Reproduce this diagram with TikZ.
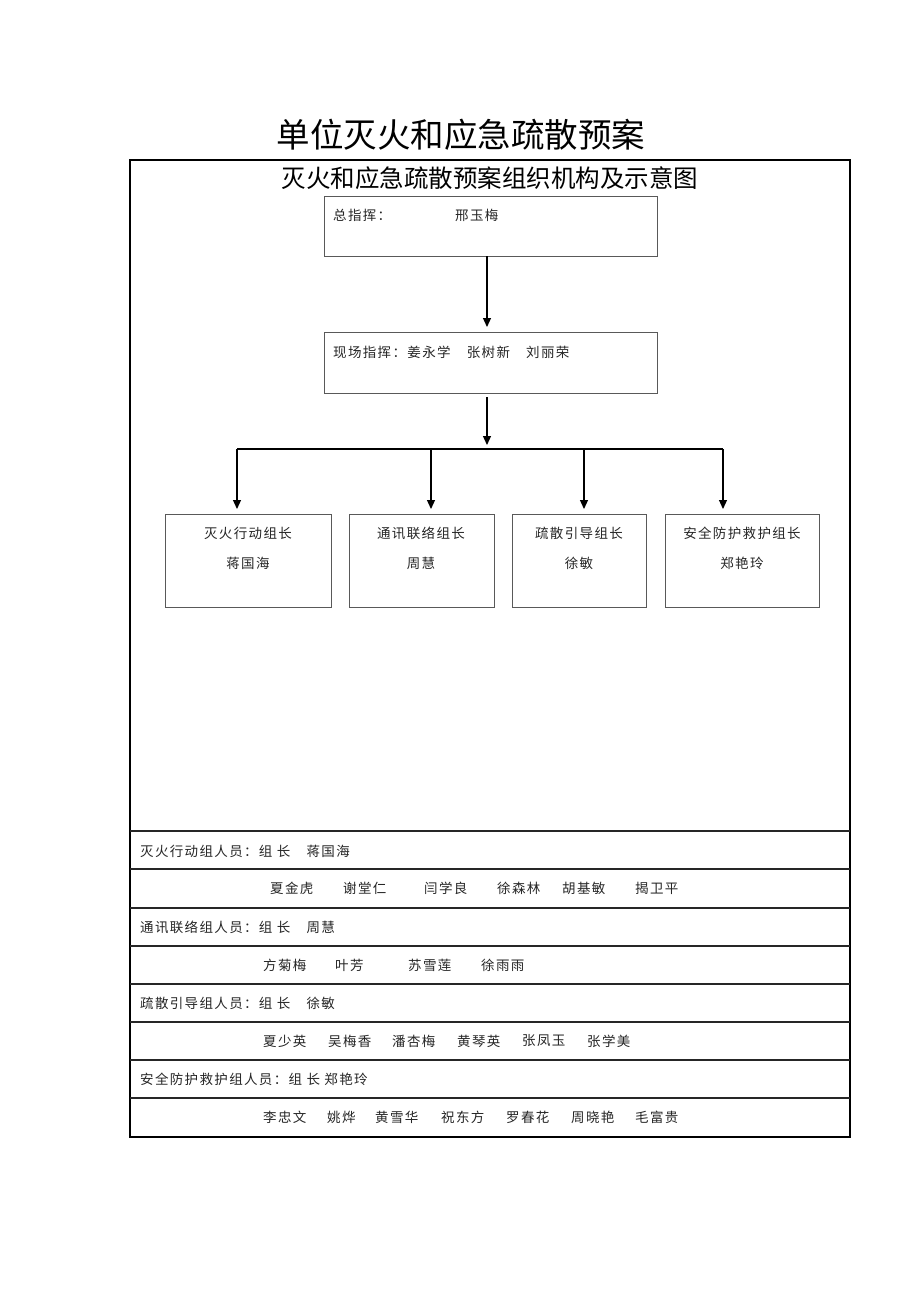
\documentclass[tikz,border=0pt]{standalone}
\usepackage{fontspec}
\setmainfont{Noto Sans CJK SC}
\newfontfamily\cjk[LetterSpace=10]{Noto Sans CJK SC}
\usetikzlibrary{arrows.meta}
\begin{document}
\begin{tikzpicture}[x=1pt,y=-1pt,
  lbl/.style={inner sep=0pt,font=\cjk\fontsize{13.5}{14}\selectfont,text=black!85},
  lblw/.style={lbl,anchor=west},
  box/.style={draw=black!65,line width=1pt},
  arr/.style={-{Triangle[length=9pt,width=8pt]},line width=1.2pt},
  rowline/.style={draw=black!85,line width=1.6pt}]
\useasboundingbox[fill=white] (0,0) rectangle (920,1302);
% titles
\node[inner sep=0pt,font=\fontsize{33.5}{36}\selectfont] (title) at (461,135) {单位灭火和应急疏散预案};
\node[inner sep=0pt,font=\fontsize{24.5}{26}\selectfont] (sub) at (490,178) {灭火和应急疏散预案组织机构及示意图};
% outer frame
\draw[line width=2pt] (130,160) rectangle (850,1137);
% top boxes
\node[box,minimum width=333pt,minimum height=60pt,anchor=north west] (chief) at (324,196) {};
\node[lblw] (chieft) at (333,215) {总指挥：};
\node[lblw] (chiefn) at (455,215) {邢玉梅};
\node[box,minimum width=333pt,minimum height=61pt,anchor=north west] (site) at (324,332) {};
\node[lblw] (sitet) at (333,352) {现场指挥：姜永学　张树新　刘丽荣};
\coordinate (c1) at (487,256);
\coordinate (c2) at (487,327);
\draw[arr] (c1) -- (c2);
\coordinate (s1) at (487,397);
\coordinate (s2) at (487,445);
\draw[arr] (s1) -- (s2);
% group boxes
\node[box,minimum width=166pt,minimum height=93pt,anchor=north west] (ga) at (165,514) {};
\node[box,minimum width=145pt,minimum height=93pt,anchor=north west] (gb) at (349,514) {};
\node[box,minimum width=134pt,minimum height=93pt,anchor=north west] (gc) at (512,514) {};
\node[box,minimum width=154pt,minimum height=93pt,anchor=north west] (gd) at (665,514) {};
\coordinate (ba) at (237,449);
\coordinate (bb) at (431,449);
\coordinate (bc) at (584,449);
\coordinate (bd) at (723,449);
\coordinate (ea) at (237,509);
\coordinate (eb) at (431,509);
\coordinate (ec) at (584,509);
\coordinate (ed) at (723,509);
\draw[line width=1.2pt] (ba) -- (bd);
\draw[arr] (ba) -- (ea);
\draw[arr] (bb) -- (eb);
\draw[arr] (bc) -- (ec);
\draw[arr] (bd) -- (ed);
\node[lbl] (gat) at (248,533) {灭火行动组长};
\node[lbl] (gan) at (248,563) {蒋国海};
\node[lbl] (gbt) at (421,533) {通讯联络组长};
\node[lbl] (gbn) at (421,563) {周慧};
\node[lbl] (gct) at (579,533) {疏散引导组长};
\node[lbl] (gcn) at (579,563) {徐敏};
\node[lbl] (gdt) at (742,533) {安全防护救护组长};
\node[lbl] (gdn) at (742,563) {郑艳玲};
% table rows
\foreach \y in {831,869,908,946,984,1022,1060,1098}
  \draw[rowline] (130,\y) -- (850,\y);
\node[lblw] (r1) at (140,851) {灭火行动组人员：组 长　蒋国海};
\node[lblw] (r2a) at (270,888) {夏金虎};
\node[lblw] (r2b) at (343,888) {谢堂仁};
\node[lblw] (r2c) at (424,888) {闫学良};
\node[lblw] (r2d) at (497,888) {徐森林};
\node[lblw] (r2e) at (562,888) {胡基敏};
\node[lblw] (r2f) at (635,888) {揭卫平};
\node[lblw] (r3) at (140,927) {通讯联络组人员：组 长　周慧};
\node[lblw] (r4a) at (263,965) {方菊梅};
\node[lblw] (r4b) at (335,965) {叶芳};
\node[lblw] (r4c) at (408,965) {苏雪莲};
\node[lblw] (r4d) at (481,965) {徐雨雨};
\node[lblw] (r5) at (140,1003) {疏散引导组人员：组 长　徐敏};
\node[lblw] (r6a) at (263,1041) {夏少英};
\node[lblw] (r6b) at (328,1041) {吴梅香};
\node[lblw] (r6c) at (392,1041) {潘杏梅};
\node[lblw] (r6d) at (457,1041) {黄琴英};
\node[lblw] (r6e) at (522,1041) {张凤玉};
\node[lblw] (r6f) at (587,1041) {张学美};
\node[lblw] (r7) at (140,1079) {安全防护救护组人员：组 长 郑艳玲};
\node[lblw] (r8a) at (263,1117) {李忠文};
\node[lblw] (r8b) at (327,1117) {姚烨};
\node[lblw] (r8c) at (375,1117) {黄雪华};
\node[lblw] (r8d) at (441,1117) {祝东方};
\node[lblw] (r8e) at (506,1117) {罗春花};
\node[lblw] (r8f) at (571,1117) {周晓艳};
\node[lblw] (r8g) at (635,1117) {毛富贵};
\end{tikzpicture}
\end{document}
